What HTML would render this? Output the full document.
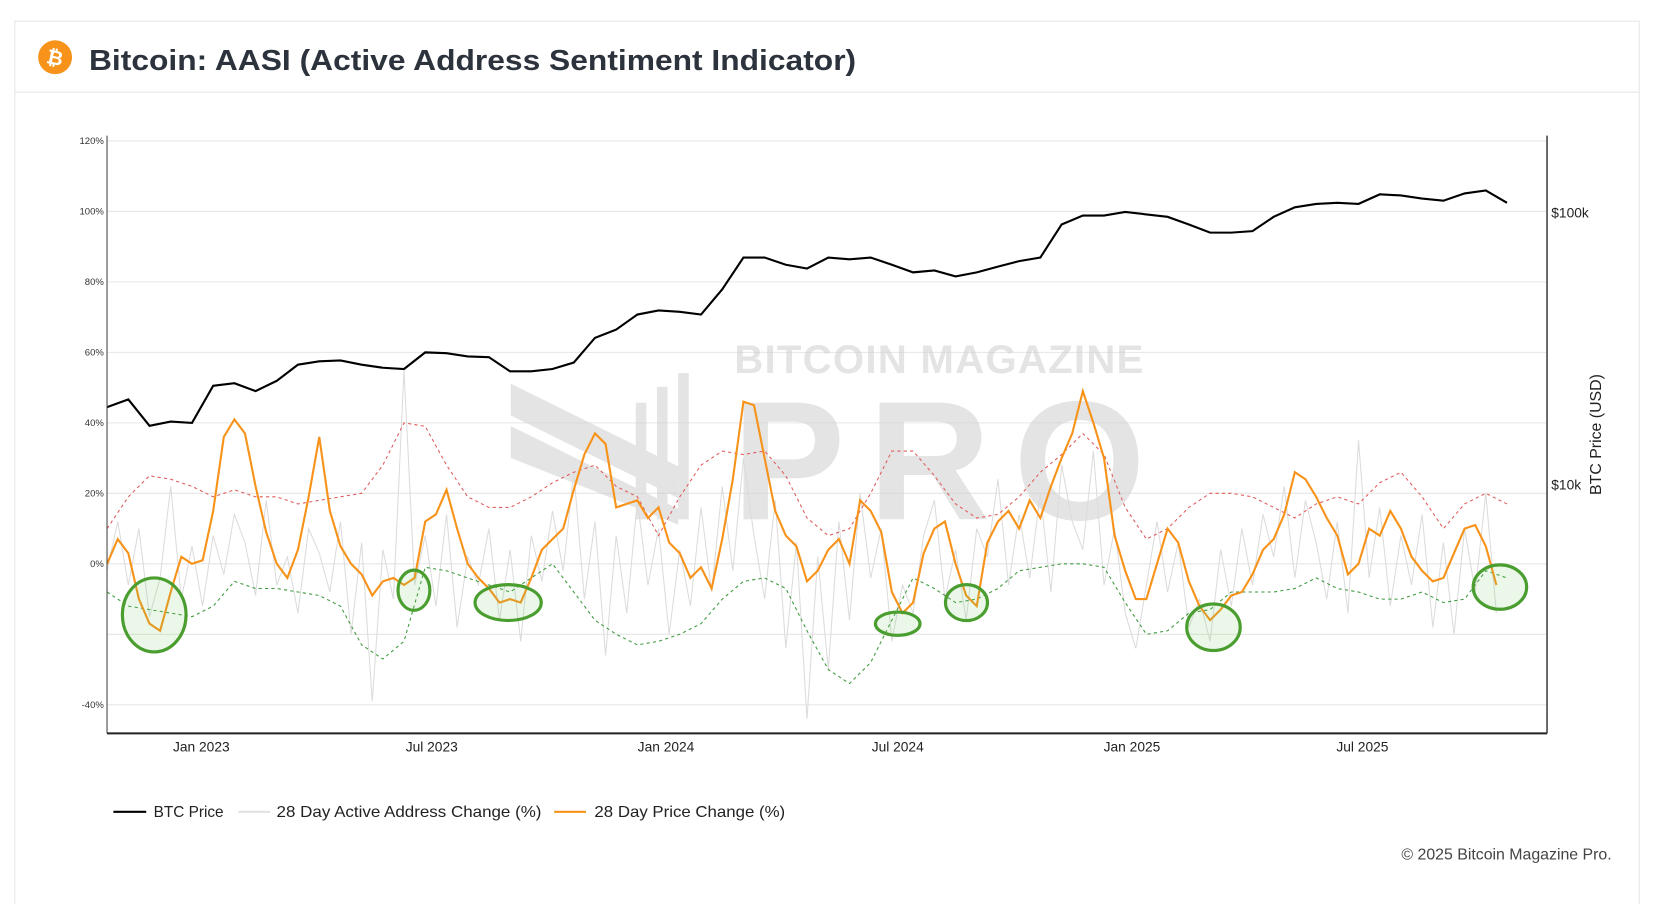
<!DOCTYPE html>
<html><head><meta charset="utf-8"><title>Bitcoin AASI</title>
<style>
html,body{margin:0;padding:0;background:#fff;}
body{width:1653px;height:904px;overflow:hidden;}
svg text{font-family:"Liberation Sans",sans-serif;}
</style></head>
<body>
<svg id="chart" width="1653" height="904" viewBox="0 0 1560 853" preserveAspectRatio="none" xmlns="http://www.w3.org/2000/svg">
  <rect x="14" y="20" width="1533" height="840" fill="#fff" stroke="#e6e6e6" stroke-width="1"/>
  <line x1="14" y1="87" x2="1547" y2="87" stroke="#e6e6e6"/>
  <g>
    <circle cx="52" cy="54" r="16" fill="#f7931a"/>
    <text x="52" y="61" text-anchor="middle" font-size="19" font-weight="bold" fill="#fff" transform="rotate(12 52 54)">₿</text>
  </g>
  <text x="84" y="66" font-size="27" font-weight="bold" fill="#2d333d" textLength="724" lengthAdjust="spacingAndGlyphs">Bitcoin: AASI (Active Address Sentiment Indicator)</text>

  <g id="grid"></g>

  <g opacity="0.55">
    <text x="886" y="352" text-anchor="middle" font-size="38" font-weight="bold" fill="#cfcfcf" textLength="386">BITCOIN MAGAZINE</text>
    <text x="886" y="490" text-anchor="middle" font-size="160" font-weight="bold" fill="#cfcfcf" textLength="390">PRO</text>
    <polygon points="482,362 640,440 640,470 482,392" fill="#cfcfcf"/>
    <polygon points="482,402 640,480 640,495 482,432" fill="#cfcfcf"/>
    <rect x="600" y="380" width="10" height="110" fill="#cfcfcf"/>
    <rect x="620" y="365" width="10" height="125" fill="#cfcfcf"/>
    <rect x="640" y="352" width="10" height="138" fill="#cfcfcf"/>
  </g>

  <g id="series"></g>
  <g id="axes"></g>

  <text x="1511" y="410" text-anchor="middle" font-size="15" fill="#222" transform="rotate(-90 1511 410)">BTC Price (USD)</text>

  <g>
    <g>
      <line x1="107" y1="766" x2="138" y2="766" stroke="#000" stroke-width="2"/>
      <text x="145" y="771" font-size="15" fill="#222" textLength="66" lengthAdjust="spacingAndGlyphs">BTC Price</text>
    </g>
    <g>
      <line x1="225" y1="766" x2="255" y2="766" stroke="#e2e2e2" stroke-width="2"/>
      <text x="261" y="771" font-size="15" fill="#222" textLength="250" lengthAdjust="spacingAndGlyphs">28 Day Active Address Change (%)</text>
    </g>
    <g>
      <line x1="523" y1="766" x2="553" y2="766" stroke="#f7931a" stroke-width="2"/>
      <text x="561" y="771" font-size="15" fill="#222" textLength="180" lengthAdjust="spacingAndGlyphs">28 Day Price Change (%)</text>
    </g>
  </g>
  <text x="1521" y="811" text-anchor="end" font-size="15" fill="#444">© 2025 Bitcoin Magazine Pro.</text>
</svg>
<script>
// ---- data ----
const startDate = "2022-10-19";
const stepDaysFine = 8.33;   // sample spacing for change series
const stepDaysBand = 16.66;  // sample spacing for bands and price
const priceChange = [0,7,3,-10,-17,-19,-8,2,0,1,15,36,41,37,22,9,0,-4,4,19,36,15,5,0,-3,-9,-5,-4,-6,-4,12,14,21,10,0,-4,-7,-11,-10,-11,-4,4,7,10,21,31,37,34,16,17,18,13,16,6,3,-4,-1,-7,7,24,46,45,30,15,8,5,-5,-2,4,7,0,18,15,9,-8,-14,-11,3,10,12,0,-9,-12,6,12,15,10,18,13,22,30,37,49,40,30,8,-2,-10,-10,0,10,6,-5,-12,-16,-13,-9,-8,-3,4,7,14,26,24,19,13,8,-3,0,10,8,15,10,2,-2,-5,-4,3,10,11,5,-6];
const activeChange = [-2,12,-6,10,-15,-4,22,-10,5,-12,8,-3,14,6,-9,18,-6,2,-14,10,3,-8,12,-20,6,-39,4,-10,55,-6,8,-12,14,-18,2,-6,10,-16,4,-22,8,-5,15,-2,26,-10,12,-26,8,-14,18,-6,10,-20,4,-12,16,-8,22,-2,30,8,-10,18,-24,6,-44,2,-30,12,-16,20,-4,10,-22,-6,-14,8,18,-10,4,-16,10,2,24,-6,14,-4,20,-8,28,12,4,32,-6,10,-14,-24,-6,12,-8,6,-18,-10,-22,4,-12,10,-6,14,2,22,-4,18,6,-10,12,-14,35,-4,16,-12,8,-6,14,-18,6,-20,10,-8,20,-14];
const bandUpper = [10,19,25,24,22,19,21,19,19,17,18,19,20,28,40,39,28,19,16,16,19,23,26,28,22,19,8,19,28,32,31,32,25,13,8,10,20,32,32,25,17,13,14,19,26,31,37,31,16,7,10,16,20,20,19,16,13,17,19,17,23,26,19,10,17,20,17];
const bandLower = [-8,-12,-13,-14,-15,-12,-5,-7,-7,-8,-9,-12,-23,-27,-22,-1,-2,-4,-6,-8,-4,0,-8,-16,-20,-23,-22,-20,-17,-10,-5,-4,-7,-19,-30,-34,-28,-16,-4,-7,-11,-10,-7,-2,-1,0,0,-1,-11,-20,-19,-14,-13,-8,-8,-8,-7,-4,-7,-8,-10,-10,-8,-11,-10,-2,-4];
const btcPriceK = [19.2,20.5,16.4,17,16.8,23,23.5,22,24,27.5,28.3,28.5,27.5,26.8,26.5,30.5,30.3,29.5,29.3,26,26,26.5,28,34.5,37,42,43.5,43,42,52,68,68,64,62,68,67,68,64,60,61,58,60,63,66,68,90,97,97,100,98,96,90,84,84,85,96,104,107,108,107,116,115,112,110,117,120,108];
const leftTicks = [120,100,80,60,40,20,0,-40];
const leftTickLabels = ["120%","100%","80%","60%","40%","20%","0%","-40%"];
const gridLevels = [120,100,80,60,40,20,0,-20,-40];
const rightTicks = [100000,10000];
const rightTickLabels = ["$100k","$10k"];
const xTickDates = ["2023-01-01","2023-07-01","2024-01-01","2024-07-01","2025-01-01","2025-07-01"];
const xTickLabels = ["Jan 2023","Jul 2023","Jan 2024","Jul 2024","Jan 2025","Jul 2025"];
const highlightDates = ["2022-11-25","2023-06-17","2023-08-30","2024-07-01","2024-08-24","2025-03-06","2025-10-17"];
const highlightValues = [-14.5,-7.5,-11,-17,-11,-18,-6.6];
const highlightRxDays = [25,12.5,26,17.5,16.5,21,21];
const highlightRyPct = [10.5,5.7,5.1,3.3,5.1,6.6,6.3];

// ---- scales ----
const plotL=101, plotR=1460, plotT=128, plotB=692;
const dayMs=86400000;
const t0=new Date(startDate).getTime();
const jan23=new Date("2023-01-01").getTime();
const pxPerDay=1.2015;
function xDate(ms){return 190+(ms-jan23)/dayMs*pxPerDay;}
function xDay(d){return xDate(t0+d*dayMs);}
function yPct(v){return 532-v*3.325;}
function yPrice(p){return 200-257*Math.log10(p/100000);}
const NS="http://www.w3.org/2000/svg";
function mk(tag,attrs,parent){const e=document.createElementNS(NS,tag);for(const k in attrs)e.setAttribute(k,attrs[k]);parent.appendChild(e);return e;}
const grid=document.getElementById('grid'), series=document.getElementById('series'), axes=document.getElementById('axes');

gridLevels.forEach(v=>{
  const l=mk('line',{x1:plotL,x2:plotR,y1:yPct(v),y2:yPct(v),stroke:'#e6e6e6','stroke-width':1},grid);
  
  
});

function pathFrom(vals,step,yf){return vals.map((v,i)=>(i?'L':'M')+xDay(i*step).toFixed(1)+','+yf(v).toFixed(1)).join('');}

const pA=mk('path',{d:pathFrom(activeChange,stepDaysFine,yPct),fill:'none',stroke:'#dcdcdc','stroke-width':1},series);


const pU=mk('path',{d:pathFrom(bandUpper,stepDaysBand,yPct),fill:'none',stroke:'#e05a5a','stroke-width':1,'stroke-dasharray':'3,3'},series);


const pL=mk('path',{d:pathFrom(bandLower,stepDaysBand,yPct),fill:'none',stroke:'#3d9a3d','stroke-width':1,'stroke-dasharray':'3,3'},series);


const pO=mk('path',{d:pathFrom(priceChange,stepDaysFine,yPct),fill:'none',stroke:'#f7931a','stroke-width':2},series);


const pP=mk('path',{d:pathFrom(btcPriceK.map(v=>v*1000),stepDaysBand,yPrice),fill:'none',stroke:'#000','stroke-width':2},series);



highlightDates.forEach((d,i)=>{
  const cx=xDate(new Date(d).getTime()), cy=yPct(highlightValues[i]);
  const e=mk('ellipse',{cx:cx,cy:cy,rx:highlightRxDays[i]*pxPerDay,ry:highlightRyPct[i]*3.325,fill:'rgba(120,200,100,0.15)',stroke:'#4a9e2f','stroke-width':3},series);
  
  
});

const ax1=mk('line',{x1:plotL,x2:plotL,y1:plotT,y2:plotB,stroke:'#444','stroke-width':1},axes);


const ax2=mk('line',{x1:plotR,x2:plotR,y1:plotT,y2:plotB,stroke:'#444','stroke-width':1.5},axes);


const ax3=mk('line',{x1:plotL,x2:plotR,y1:plotB,y2:plotB,stroke:'#222','stroke-width':2},axes);


leftTicks.forEach((v,i)=>{
  const t=mk('text',{x:98,y:yPct(v)+3,'text-anchor':'end','font-size':9,fill:'#333'},axes);
  t.textContent=leftTickLabels[i];
  
  
});
rightTicks.forEach((p,i)=>{
  const t=mk('text',{x:1464,y:yPrice(p)+5,'font-size':13,fill:'#222'},axes);
  t.textContent=rightTickLabels[i];
  
  
});
xTickDates.forEach((d,i)=>{
  const t=mk('text',{x:xDate(new Date(d).getTime()),y:709,'text-anchor':'middle','font-size':13,fill:'#222'},axes);
  t.textContent=xTickLabels[i];
  
  
});
</script>
</body></html>
